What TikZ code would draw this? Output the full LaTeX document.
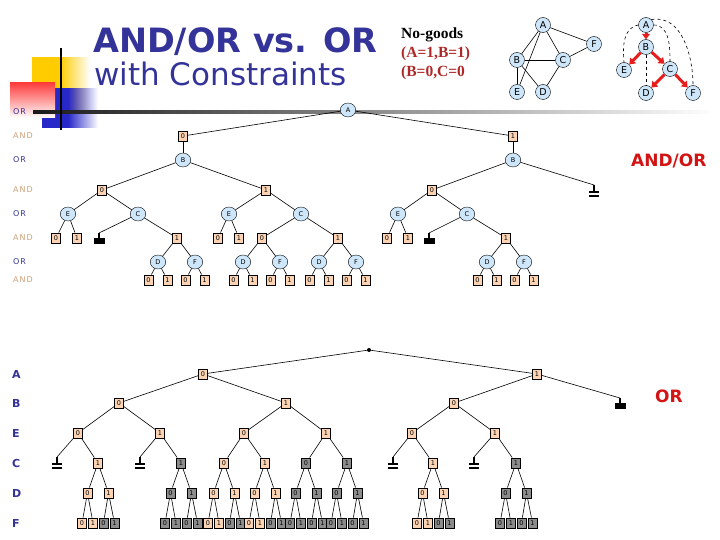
\documentclass[tikz,border=0pt]{standalone}
\usepackage{fontspec}
\setmainfont{Liberation Serif}
\setsansfont{DejaVu Sans}
\newfontfamily\levelfont[LetterSpace=12]{DejaVu Sans}
\usetikzlibrary{
  arrows.meta,
  positioning,
  shapes.geometric,
  fadings
}
\definecolor{aoNavy}{RGB}{51,51,153}
\definecolor{aoTan}{RGB}{252,212,180}
\definecolor{aoAndText}{RGB}{205,160,120}
\definecolor{aoBlue}{RGB}{205,230,250}
\definecolor{aoGray}{RGB}{140,140,140}
\definecolor{aoRed}{RGB}{210,20,20}
\definecolor{aoArrow}{RGB}{230,30,30}
\definecolor{aoNogood}{RGB}{175,40,40}
\definecolor{aoYellow}{RGB}{255,204,0}
\definecolor{aoSqRed}{RGB}{255,40,40}
\definecolor{aoSqBlue}{RGB}{40,40,200}
\tikzset{
  andbox/.style={
    draw=black,
    fill=aoTan,
    rectangle,
    minimum width=9pt,
    minimum height=10.5pt,
    inner sep=0pt,
    font=\fontsize{6.5}{6.5}\sffamily
  },
  graybox/.style={
    andbox,
    fill=aoGray
  },
  ornode/.style={
    draw=black,
    fill=aoBlue,
    ellipse,
    minimum width=15.5pt,
    minimum height=14pt,
    inner sep=0pt,
    font=\fontsize{6.5}{6.5}\sffamily
  },
  gnode/.style={
    draw=black,
    fill=aoBlue,
    circle,
    minimum size=15pt,
    inner sep=0pt,
    font=\fontsize{9.5}{9.5}\sffamily
  },
  levellab/.style={
    anchor=west,
    inner sep=0pt,
    font=\fontsize{8}{8}\levelfont
  },
  varlab/.style={
    anchor=west,
    inner sep=0pt,
    text=aoNavy,
    font=\fontsize{11}{11}\sffamily\bfseries
  },
  textlab/.style={
    anchor=base west,
    inner sep=0pt
  },
  treeedge/.style={
    draw=black,
    line width=0.6pt
  },
  ptarrow/.style={
    -{Triangle[length=5.5pt,width=8pt]},
    line width=3pt,
    draw=aoArrow
  },
  backedge/.style={
    dashed,
    line width=0.6pt
  },
  pics/deadblock/.style={code={
    \draw[line width=1.4pt] (0,0) -- (0,5);
    \fill (-5.5,5) rectangle (5.5,11);
  }},
  pics/deadbars/.style={code={
    \draw[line width=1.4pt] (0,0) -- (0,6);
    \fill (-5,6) rectangle (5,8.2);
    \fill (-5,9.8) rectangle (5,12);
  }}
}

\begin{document}
\begin{tikzpicture}[x=1pt,y=-1pt]
  \useasboundingbox (0,0) rectangle (720,540);

  % corner squares and rule
  \fill[aoYellow] (32,57) rectangle (60,110);
  \fill[aoYellow, path fading=east] (60,57) rectangle (90,110);
  \fill[aoSqBlue] (42,88) rectangle (68,128);
  \fill[aoSqBlue, path fading=east] (68,88) rectangle (98,128);
  \shade[top color=aoSqRed!90, bottom color=white] (10,83) rectangle (55,118);
  \shade[left color=black!90, right color=white] (33,110.5) rectangle (715,113.5);
  \draw[line width=2pt] (61,48) -- (61,130);

  % title and side texts
  \node[textlab, text=aoNavy, font=\fontsize{33.5}{36}\sffamily\bfseries] (title1) at (93,53)
    {AND/OR vs. OR};
  \node[textlab, text=aoNavy, font=\fontsize{31}{34}\sffamily] (title2) at (94,86)
    {with Constraints};
  \node[textlab, font=\fontsize{15.5}{18}\bfseries] (ngtitle) at (401,39) {No-goods};
  \node[textlab, text=aoNogood, font=\fontsize{15.5}{18}\bfseries] (ng1) at (401,58) {(A=1,B=1)};
  \node[textlab, text=aoNogood, font=\fontsize{15.5}{18}\bfseries] (ng2) at (401,77) {(B=0,C=0};
  \node[textlab, text=aoRed, font=\fontsize{17}{17}\sffamily\bfseries] (aolab) at (631,167) {AND/OR};
  \node[textlab, text=aoRed, font=\fontsize{17}{17}\sffamily\bfseries] (orlab) at (655,402) {OR};

  % constraint graph
  \node[gnode] (ga) at (543,25) {A};
  \node[gnode] (gf) at (594,44) {F};
  \node[gnode] (gb) at (517,60) {B};
  \node[gnode] (gc) at (563,60) {C};
  \node[gnode] (ge) at (517,92) {E};
  \node[gnode] (gd) at (543,92) {D};
  \draw[treeedge] (ga) -- (gb);
  \draw[treeedge] (ga) -- (gc);
  \draw[treeedge] (ga) -- (ge);
  \draw[treeedge] (ga) -- (gf);
  \draw[treeedge] (gb) -- (gc);
  \draw[treeedge] (gb) -- (ge);
  \draw[treeedge] (gb) -- (gd);
  \draw[treeedge] (gc) -- (gf);
  \draw[treeedge] (gc) -- (gd);

  % pseudo tree
  \node[gnode] (pa) at (646,25) {A};
  \node[gnode] (pb) at (646,47) {B};
  \node[gnode] (pe) at (624,70) {E};
  \node[gnode] (pc) at (670,69) {C};
  \node[gnode] (pd) at (646,93) {D};
  \node[gnode] (pf) at (693,93) {F};
  \draw[ptarrow] (pa) -- (pb);
  \draw[ptarrow] (pb) -- (pe);
  \draw[ptarrow] (pb) -- (pc);
  \draw[ptarrow] (pc) -- (pd);
  \draw[ptarrow] (pc) -- (pf);
  \draw[backedge] (pa.west) to[out=190,in=95] (pe.north);
  \draw[backedge] (pa.east) to[out=0,in=90] (pc.north);
  \draw[backedge] (pa.north east) to[out=10,in=90] (pf.north);
  \draw[backedge] (pb) -- (pd);

  % level names
  \foreach \y [count=\i] in {112,160,214,262}
    \node[levellab, text=aoNavy] (lor\i) at (13,\y) {OR};
  \foreach \y [count=\i] in {136,190,238,280}
    \node[levellab, text=aoAndText] (land\i) at (13,\y) {AND};
  \foreach \t/\y in {A/374,B/403,E/433,C/463,D/493,F/523}
    \node[varlab] (lab\t) at (12,\y) {\t};

  % AND/OR search tree
  \node[ornode] (oa) at (348,110) {A};
  \node[andbox] (oa0) at (183,136) {0};
  \node[andbox] (oa1) at (513,136) {1};
  \node[ornode] (ob0) at (183,160) {B};
  \node[ornode] (ob1) at (513,160) {B};
  \node[andbox] (ob00) at (102,190) {0};
  \node[andbox] (ob01) at (266,190) {1};
  \node[andbox] (ob10) at (432,190) {0};
  \coordinate (odb1) at (594,185);
  \pic at (odb1) {deadbars};
  \node[ornode] (oe1) at (68,214) {E};
  \node[ornode] (oc1) at (138,214) {C};
  \node[ornode] (oe2) at (229,214) {E};
  \node[ornode] (oc2) at (301,214) {C};
  \node[ornode] (oe3) at (398,214) {E};
  \node[ornode] (oc3) at (467,214) {C};
  \node[andbox] (oe1a) at (56,238) {0};
  \node[andbox] (oe1b) at (77,238) {1};
  \coordinate (odc1) at (99,233);
  \pic at (odc1) {deadblock};
  \node[andbox] (oc1b) at (177,238) {1};
  \node[andbox] (oe2a) at (218,238) {0};
  \node[andbox] (oe2b) at (239,238) {1};
  \node[andbox] (oc2a) at (262,238) {0};
  \node[andbox] (oc2b) at (338,238) {1};
  \node[andbox] (oe3a) at (387,238) {0};
  \node[andbox] (oe3b) at (408,238) {1};
  \coordinate (odc3) at (429,233);
  \pic at (odc3) {deadblock};
  \node[andbox] (oc3b) at (506,238) {1};

  \draw[treeedge] (oa) -- (oa0);
  \draw[treeedge] (oa) -- (oa1);
  \draw[treeedge] (oa0) -- (ob0);
  \draw[treeedge] (oa1) -- (ob1);
  \draw[treeedge] (ob0) -- (ob00);
  \draw[treeedge] (ob0) -- (ob01);
  \draw[treeedge] (ob1) -- (ob10);
  \draw[treeedge] (ob1) -- (odb1);
  \draw[treeedge] (ob00) -- (oe1);
  \draw[treeedge] (ob00) -- (oc1);
  \draw[treeedge] (ob01) -- (oe2);
  \draw[treeedge] (ob01) -- (oc2);
  \draw[treeedge] (ob10) -- (oe3);
  \draw[treeedge] (ob10) -- (oc3);
  \draw[treeedge] (oe1) -- (oe1a);
  \draw[treeedge] (oe1) -- (oe1b);
  \draw[treeedge] (oc1) -- (odc1);
  \draw[treeedge] (oc1) -- (oc1b);
  \draw[treeedge] (oe2) -- (oe2a);
  \draw[treeedge] (oe2) -- (oe2b);
  \draw[treeedge] (oc2) -- (oc2a);
  \draw[treeedge] (oc2) -- (oc2b);
  \draw[treeedge] (oe3) -- (oe3a);
  \draw[treeedge] (oe3) -- (oe3b);
  \draw[treeedge] (oc3) -- (odc3);
  \draw[treeedge] (oc3) -- (oc3b);

  \foreach \p/\x in {oc1b/177, oc2a/262, oc2b/338, oc3b/506} {
    \node[ornode] (\p-d) at ({\x-19},262) {D};
    \node[ornode] (\p-f) at ({\x+18},262) {F};
    \node[andbox] (\p-d0) at ({\x-28.5},280) {0};
    \node[andbox] (\p-d1) at ({\x-9.5},280) {1};
    \node[andbox] (\p-f0) at ({\x+8.5},280) {0};
    \node[andbox] (\p-f1) at ({\x+27.5},280) {1};
    \draw[treeedge] (\p) -- (\p-d);
    \draw[treeedge] (\p) -- (\p-f);
    \draw[treeedge] (\p-d) -- (\p-d0);
    \draw[treeedge] (\p-d) -- (\p-d1);
    \draw[treeedge] (\p-f) -- (\p-f0);
    \draw[treeedge] (\p-f) -- (\p-f1);
  }

  % OR search tree
  \coordinate (root) at (369,350);
  \fill (root) circle (2);
  \node[andbox] (ra0) at (203,374) {0};
  \node[andbox] (ra1) at (537,374) {1};
  \node[andbox] (rb00) at (119,403) {0};
  \node[andbox] (rb01) at (286,403) {1};
  \node[andbox] (rb10) at (454,403) {0};
  \coordinate (rdb) at (620,398);
  \pic at (rdb) {deadblock};
  \node[andbox] (re1) at (78,433) {0};
  \node[andbox] (re2) at (160,433) {1};
  \node[andbox] (re3) at (244,433) {0};
  \node[andbox] (re4) at (326,433) {1};
  \node[andbox] (re5) at (412,433) {0};
  \node[andbox] (re6) at (495,433) {1};
  \coordinate (rd1) at (57,457);
  \coordinate (rd2) at (140,457);
  \coordinate (rd5) at (393,457);
  \coordinate (rd6) at (474,457);
  \foreach \d in {rd1,rd2,rd5,rd6}
    \pic at (\d) {deadbars};
  \node[andbox] (rc1) at (98,463) {1};
  \node[graybox] (rc2) at (181,463) {1};
  \node[andbox] (rc3) at (224,463) {0};
  \node[andbox] (rc4) at (265,463) {1};
  \node[graybox] (rc5) at (306,463) {0};
  \node[graybox] (rc6) at (347,463) {1};
  \node[andbox] (rc7) at (433,463) {1};
  \node[graybox] (rc8) at (516,463) {1};

  \draw[treeedge] (root) -- (ra0);
  \draw[treeedge] (root) -- (ra1);
  \draw[treeedge] (ra0) -- (rb00);
  \draw[treeedge] (ra0) -- (rb01);
  \draw[treeedge] (ra1) -- (rb10);
  \draw[treeedge] (ra1) -- (rdb);
  \draw[treeedge] (rb00) -- (re1);
  \draw[treeedge] (rb00) -- (re2);
  \draw[treeedge] (rb01) -- (re3);
  \draw[treeedge] (rb01) -- (re4);
  \draw[treeedge] (rb10) -- (re5);
  \draw[treeedge] (rb10) -- (re6);
  \draw[treeedge] (re1) -- (rd1);
  \draw[treeedge] (re1) -- (rc1);
  \draw[treeedge] (re2) -- (rd2);
  \draw[treeedge] (re2) -- (rc2);
  \draw[treeedge] (re3) -- (rc3);
  \draw[treeedge] (re3) -- (rc4);
  \draw[treeedge] (re4) -- (rc5);
  \draw[treeedge] (re4) -- (rc6);
  \draw[treeedge] (re5) -- (rd5);
  \draw[treeedge] (re5) -- (rc7);
  \draw[treeedge] (re6) -- (rd6);
  \draw[treeedge] (re6) -- (rc8);

  \foreach \c/\x/\s in {rc1/98/andbox, rc2/181/graybox, rc3/224/andbox, rc4/265/andbox,
                        rc5/306/graybox, rc6/347/graybox, rc7/433/andbox, rc8/516/graybox} {
    \node[\s] (\c-d0) at ({\x-10.5},493) {0};
    \node[\s] (\c-d1) at ({\x+10.5},493) {1};
    \node[\s] (\c-f00) at ({\x-16},523) {0};
    \node[\s] (\c-f01) at ({\x-5},523) {1};
    \node[graybox] (\c-f10) at ({\x+5.5},523) {0};
    \node[graybox] (\c-f11) at ({\x+16.5},523) {1};
    \draw[treeedge] (\c) -- (\c-d0);
    \draw[treeedge] (\c) -- (\c-d1);
    \draw[treeedge] (\c-d0) -- (\c-f00);
    \draw[treeedge] (\c-d0) -- (\c-f01);
    \draw[treeedge] (\c-d1) -- (\c-f10);
    \draw[treeedge] (\c-d1) -- (\c-f11);
  }
\end{tikzpicture}
\end{document}
